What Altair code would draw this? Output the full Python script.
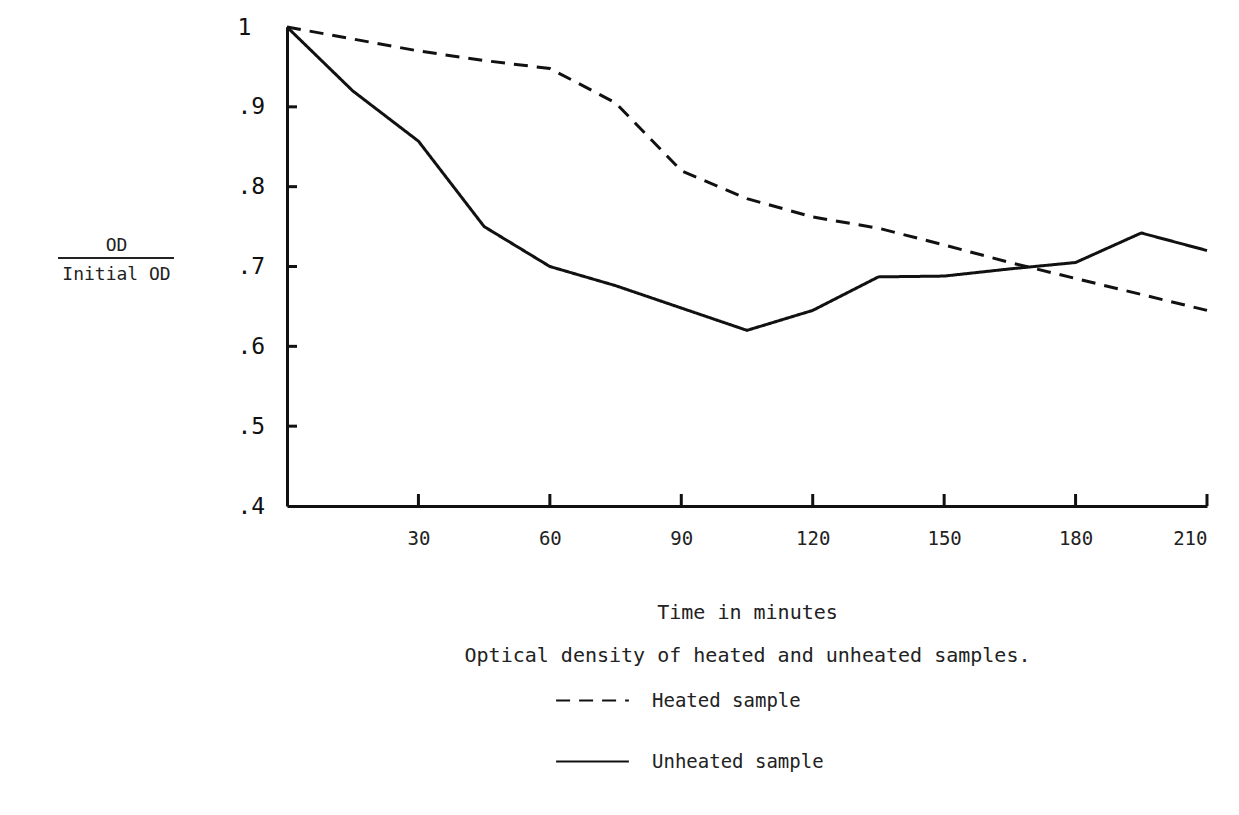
import altair as alt
import pandas as pd

# ---- data ----
time_min = [0, 15, 30, 45, 60, 75, 90, 105, 120, 135, 150, 165, 180, 195, 210]
heated = [1.0, 0.985, 0.97, 0.958, 0.948, 0.905, 0.82, 0.785, 0.762, 0.748, 0.727, 0.705, 0.685, 0.665, 0.645]
unheated = [1.0, 0.92, 0.857, 0.75, 0.70, 0.676, 0.648, 0.62, 0.645, 0.687, 0.688, 0.697, 0.705, 0.742, 0.72]
series_names = ["Heated sample", "Unheated sample"]
x_ticks = [30, 60, 90, 120, 150, 180, 210]
y_ticks = [0.4, 0.5, 0.6, 0.7, 0.8, 0.9, 1.0]
inner_y_ticks = [0.5, 0.6, 0.7, 0.8, 0.9]

rows = []
for t, h, u in zip(time_min, heated, unheated):
    rows.append({"time": t, "value": h, "series": series_names[0]})
    rows.append({"time": t, "value": u, "series": series_names[1]})
df = pd.DataFrame(rows)

FONT = "DejaVu Sans Mono"
W, H = 920, 479

xscale = alt.Scale(domain=[0, 210], nice=False, zero=False)
yscale = alt.Scale(domain=[0.4, 1.0], nice=False, zero=False)

lines = alt.Chart(df).mark_line(color="#111", strokeWidth=3).encode(
    x=alt.X("time:Q", scale=xscale,
            axis=alt.Axis(values=x_ticks, grid=False, ticks=False, domainWidth=3,
                          domainColor="#111", labelFont=FONT, labelFontSize=19,
                          labelColor="#222", labelPadding=23,
                          title=["Time in minutes", "Optical density of heated and unheated samples."],
                          titleFont=FONT, titleFontSize=20, titleFontWeight="normal",
                          titleColor="#222", titlePadding=54, titleLineHeight=43)),
    y=alt.Y("value:Q", scale=yscale,
            axis=alt.Axis(values=y_ticks, grid=False, ticks=False, domainWidth=3,
                          domainColor="#111", labelFont=FONT, labelFontSize=23,
                          labelColor="#111", labelAlign="left",
                          labelExpr="datum.value == 1 ? '1' : '.' + round(datum.value * 10)",
                          labelPadding=50,
                          title=["OD", "Initial OD"], titleAngle=0, titleFont=FONT,
                          titleFontSize=18, titleFontWeight="normal", titleColor="#222",
                          titleAlign="center", titleBaseline="alphabetic",
                          titleX=-171, titleY=223, titleLineHeight=29)),
    strokeDash=alt.StrokeDash("series:N",
                              scale=alt.Scale(domain=series_names, range=[[14, 9], [1, 0]]),
                              legend=alt.Legend(title=None, orient="none", legendX=268,
                                                legendY=636, symbolType="stroke",
                                                symbolSize=5300, symbolStrokeWidth=2,
                                                symbolStrokeColor="#111",
                                                labelFont=FONT, labelFontSize=19,
                                                labelColor="#222", labelOffset=22,
                                                labelLimit=0, rowPadding=13)),
    order="time:Q",
)

xt_df = pd.DataFrame({"t": x_ticks})
x_tick_marks = alt.Chart(xt_df).mark_rule(color="#111", strokeWidth=3).encode(
    x=alt.X("t:Q", scale=xscale), y=alt.value(H), y2=alt.value(H - 12))

yt_df = pd.DataFrame({"v": inner_y_ticks})
y_tick_marks = alt.Chart(yt_df).mark_rule(color="#111", strokeWidth=3).encode(
    y=alt.Y("v:Q", scale=yscale), x=alt.value(0), x2=alt.value(10))

frac_bar = alt.Chart(pd.DataFrame({"k": [0]})).mark_rule(color="#222", strokeWidth=2).encode(
    x=alt.value(-229), x2=alt.value(-113), y=alt.value(231))

chart = alt.layer(lines, x_tick_marks, y_tick_marks, frac_bar).properties(
    width=W, height=H,
    autosize=alt.AutoSizeParams(type="none"),
    padding={"left": 279, "top": 19, "right": 20, "bottom": 300},
    background="white",
).configure_view(stroke=None)

chart.save("out.html", embed_options={"renderer": "svg", "actions": False})
